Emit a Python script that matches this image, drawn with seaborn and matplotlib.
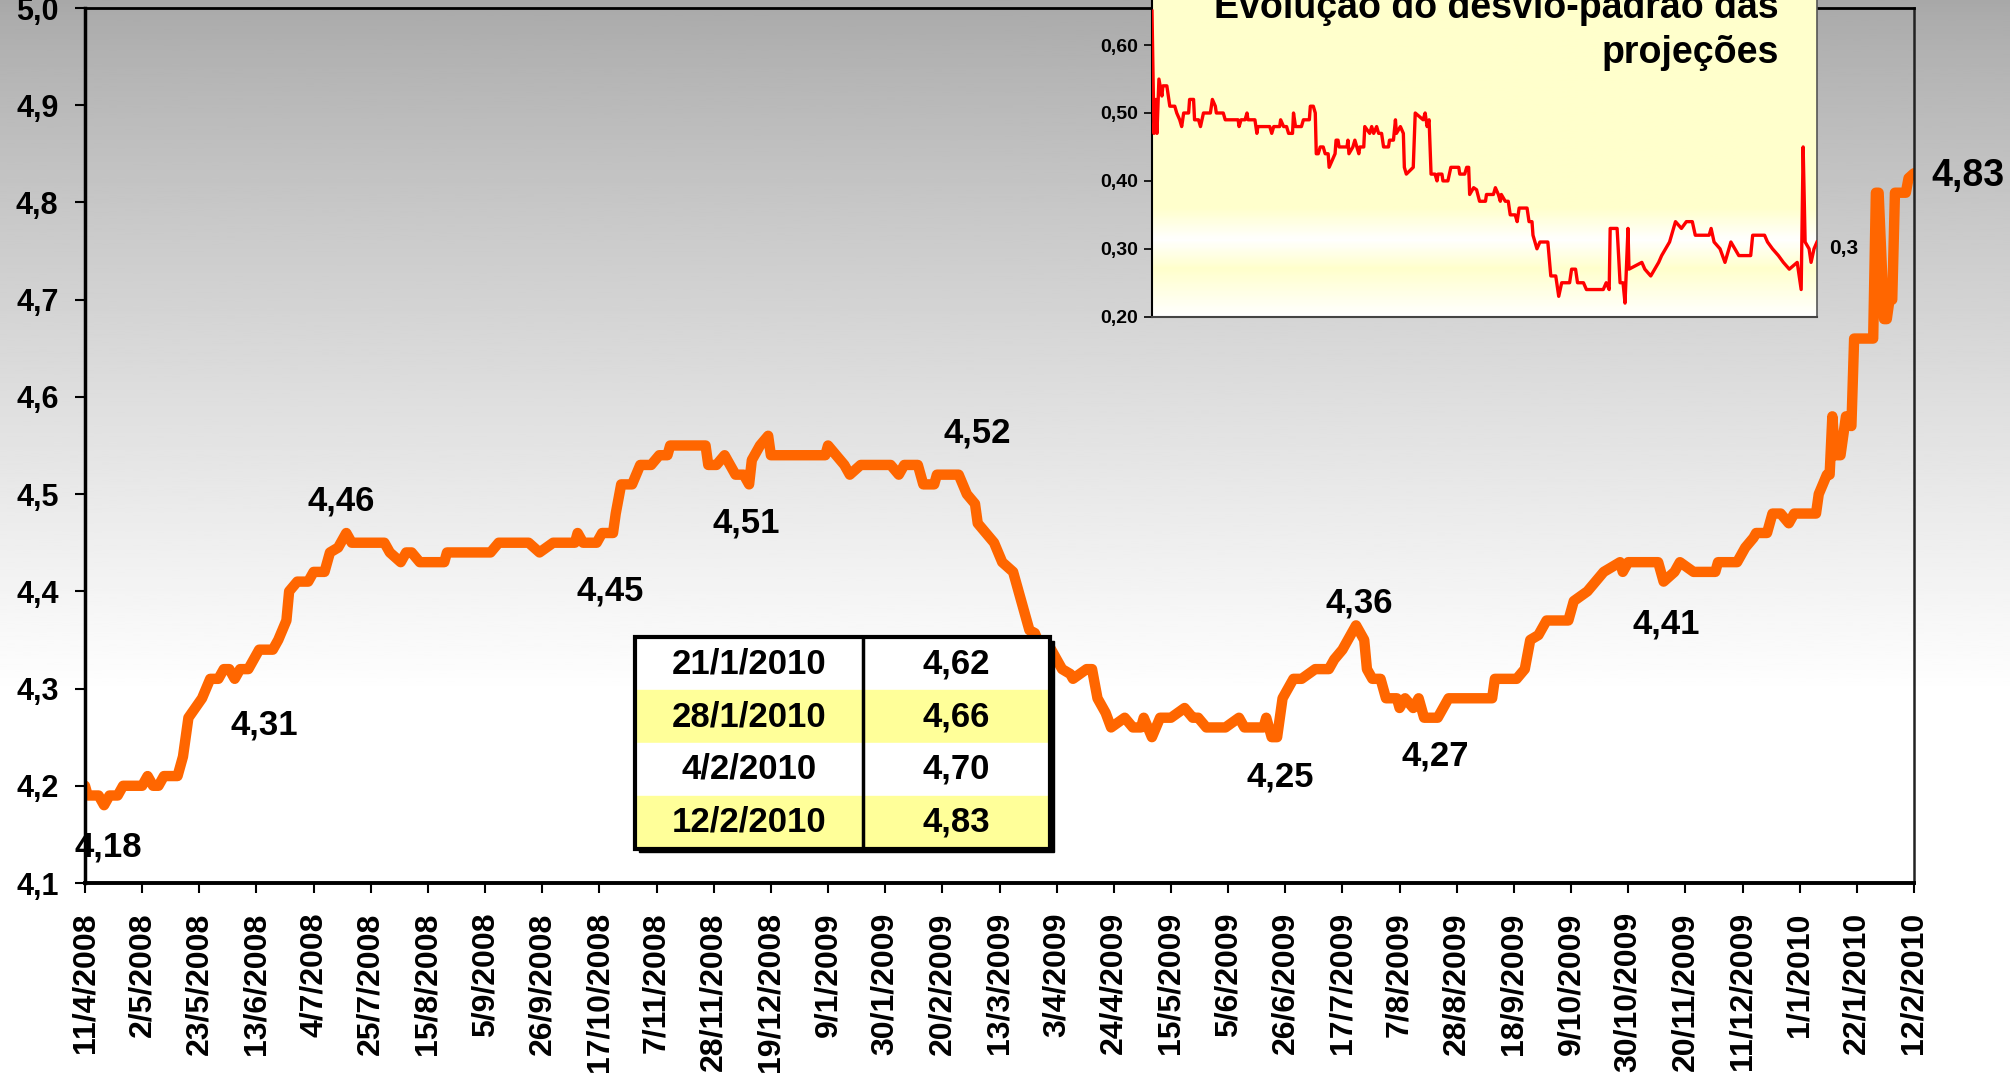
import numpy as np
import pandas as pd
import matplotlib
matplotlib.use('Agg')
import matplotlib.pyplot as plt
from matplotlib.colors import LinearSegmentedColormap
from matplotlib.patches import Rectangle
from matplotlib.ticker import FuncFormatter
import seaborn as sns

inicio = pd.Timestamp('2008-04-11')
fim = pd.Timestamp('2010-02-12')

# mediana das projecoes (dias desde 11/4/2008)
dias_mediana = [0, 1, 5, 7, 9, 12, 14, 21, 23, 25, 27, 29, 34, 36, 38, 43, 46, 49, 51, 53, 55, 57, 60, 62, 64,
                69, 71, 74, 75, 78, 82, 84, 88, 90, 93, 96, 98, 110, 112, 116, 118, 120, 123, 132, 133, 149, 152,
                163, 167, 172, 180, 181, 183, 188, 190, 194, 195, 197, 201, 204, 208, 211, 214, 215, 228, 229, 232,
                235, 239, 242, 244, 245, 248, 251, 252, 272, 273, 276, 279, 281, 285, 296, 299, 301, 306, 308, 312,
                313, 321, 324, 327, 328, 331, 334, 337, 341, 342, 344, 347, 349, 350, 354, 356, 359, 362, 363, 368,
                370, 372, 375, 377, 382, 385, 388, 389, 392, 395, 399, 404, 407, 409, 412, 419, 424, 426, 433, 434,
                436, 438, 440, 444, 447, 452, 457, 459, 462, 465, 467, 470, 471, 473, 476, 478, 482, 483, 485, 488,
                490, 492, 497, 501, 517, 518, 526, 529, 531, 534, 537, 545, 547, 552, 555, 558, 564, 565, 567, 578,
                580, 584, 586, 591, 599, 600, 607, 610, 613, 614, 618, 620, 623, 626, 628, 636, 637, 640, 641, 642,
                643, 645, 647, 649, 650, 657, 658, 659, 661, 662, 663, 664, 665, 668, 669, 670, 672]
valores_mediana = [4.20, 4.19, 4.19, 4.18, 4.19, 4.19, 4.20, 4.20, 4.21, 4.20, 4.20, 4.21, 4.21, 4.23, 4.27, 4.29,
                   4.31, 4.31, 4.32, 4.32, 4.31, 4.32, 4.32, 4.33, 4.34, 4.34, 4.35, 4.37, 4.40, 4.41, 4.41, 4.42,
                   4.42, 4.44, 4.445, 4.46, 4.45, 4.45, 4.44, 4.43, 4.44, 4.44, 4.43, 4.43, 4.44, 4.44, 4.45, 4.45,
                   4.44, 4.45, 4.45, 4.46, 4.45, 4.45, 4.46, 4.46, 4.48, 4.51, 4.51, 4.53, 4.53, 4.54, 4.54, 4.55,
                   4.55, 4.53, 4.53, 4.54, 4.52, 4.52, 4.51, 4.535, 4.55, 4.56, 4.54, 4.54, 4.55, 4.54, 4.53, 4.52,
                   4.53, 4.53, 4.52, 4.53, 4.53, 4.51, 4.51, 4.52, 4.52, 4.50, 4.49, 4.47, 4.46, 4.45, 4.43, 4.42,
                   4.41, 4.39, 4.36, 4.357, 4.35, 4.345, 4.335, 4.32, 4.315, 4.31, 4.32, 4.32, 4.29, 4.275, 4.26,
                   4.27, 4.26, 4.26, 4.27, 4.25, 4.27, 4.27, 4.28, 4.27, 4.27, 4.26, 4.26, 4.27, 4.26, 4.26, 4.27,
                   4.25, 4.25, 4.29, 4.31, 4.31, 4.32, 4.32, 4.33, 4.34, 4.355, 4.365, 4.35, 4.32, 4.31, 4.31, 4.29,
                   4.29, 4.28, 4.29, 4.28, 4.29, 4.27, 4.27, 4.29, 4.29, 4.31, 4.31, 4.32, 4.35, 4.355, 4.37, 4.37,
                   4.39, 4.40, 4.41, 4.42, 4.43, 4.42, 4.43, 4.43, 4.41, 4.42, 4.43, 4.42, 4.42, 4.43, 4.43, 4.445,
                   4.455, 4.46, 4.46, 4.48, 4.48, 4.47, 4.48, 4.48, 4.50, 4.52, 4.52, 4.58, 4.54, 4.54, 4.58, 4.57,
                   4.66, 4.66, 4.81, 4.81, 4.68, 4.68, 4.70, 4.70, 4.81, 4.81, 4.81, 4.825, 4.83]

# desvio-padrao das projecoes
dias_desvio = [0, 2, 4, 5, 7, 10, 11, 15, 18, 23, 25, 28, 30, 32, 37, 38, 42, 43, 47, 49, 52, 59, 61, 64, 65, 72, 74,
               87, 88, 90, 94, 96, 97, 104, 106, 107, 119, 121, 123, 129, 130, 133, 136, 138, 142, 143, 145, 151,
               153, 159, 160, 163, 165, 166, 168, 170, 173, 175, 178, 179, 182, 185, 186, 188, 189, 197, 198, 199,
               203, 205, 209, 210, 214, 215, 220, 222, 224, 227, 229, 232, 234, 239, 240, 244, 246, 247, 251, 254,
               255, 257, 264, 266, 274, 276, 278, 280, 282, 286, 288, 289, 293, 294, 299, 302, 310, 311, 316, 318,
               320, 321, 325, 328, 331, 337, 338, 345, 347, 350, 352, 353, 357, 360, 362, 367, 369, 371, 379, 381,
               384, 385, 389, 392, 400, 403, 408, 411, 414, 422, 424, 428, 430, 436, 439, 456, 459, 462, 463, 470,
               473, 476, 478, 481, 482, 495, 498, 504, 512, 515, 519, 523, 529, 535, 540, 546, 549, 563, 565, 568,
               574, 579, 585, 593, 599, 605, 607, 619, 622, 627, 633, 638, 644, 652, 656, 658, 660, 664, 666, 669,
               672]
valores_desvio = [0.65, 0.47, 0.52, 0.47, 0.55, 0.525, 0.54, 0.54, 0.51, 0.51, 0.50, 0.49, 0.48, 0.50, 0.50, 0.52,
                  0.52, 0.49, 0.49, 0.48, 0.50, 0.50, 0.52, 0.51, 0.50, 0.50, 0.49, 0.49, 0.48, 0.49, 0.49, 0.50,
                  0.49, 0.49, 0.47, 0.48, 0.48, 0.47, 0.48, 0.48, 0.49, 0.48, 0.48, 0.47, 0.47, 0.50, 0.48, 0.48,
                  0.49, 0.49, 0.51, 0.51, 0.50, 0.44, 0.44, 0.45, 0.45, 0.44, 0.44, 0.42, 0.43, 0.44, 0.46, 0.46,
                  0.45, 0.45, 0.46, 0.44, 0.45, 0.46, 0.44, 0.45, 0.45, 0.48, 0.47, 0.48, 0.47, 0.48, 0.47, 0.47,
                  0.45, 0.45, 0.46, 0.46, 0.49, 0.47, 0.48, 0.47, 0.42, 0.41, 0.42, 0.50, 0.49, 0.50, 0.48, 0.49,
                  0.41, 0.41, 0.40, 0.41, 0.41, 0.40, 0.40, 0.42, 0.42, 0.41, 0.41, 0.42, 0.42, 0.38, 0.39, 0.387,
                  0.37, 0.37, 0.38, 0.38, 0.39, 0.38, 0.37, 0.38, 0.37, 0.37, 0.35, 0.35, 0.34, 0.36, 0.36, 0.34,
                  0.34, 0.32, 0.30, 0.31, 0.31, 0.26, 0.26, 0.23, 0.25, 0.25, 0.27, 0.27, 0.25, 0.25, 0.24, 0.24,
                  0.25, 0.24, 0.33, 0.33, 0.25, 0.25, 0.22, 0.33, 0.27, 0.28, 0.27, 0.26, 0.28, 0.29, 0.30, 0.31,
                  0.34, 0.33, 0.34, 0.34, 0.32, 0.32, 0.33, 0.31, 0.30, 0.28, 0.31, 0.29, 0.29, 0.29, 0.32, 0.32,
                  0.31, 0.30, 0.29, 0.28, 0.27, 0.28, 0.24, 0.45, 0.31, 0.30, 0.28, 0.30, 0.31]

datas_tabela = ['21/1/2010', '28/1/2010', '4/2/2010', '12/2/2010']
valores_tabela = ['4,62', '4,66', '4,70', '4,83']

rotulos = ['4,18', '4,31', '4,46', '4,45', '4,51', '4,52', '4,25', '4,36', '4,27', '4,41', '4,83']
# posicao dos rotulos (dia, valor)
pos_rotulos = [(8.5, 4.137), (66, 4.263), (94, 4.493), (193, 4.400), (243, 4.470), (328, 4.563),
               (439, 4.209), (468, 4.388), (496, 4.231), (581, 4.366), (692, 4.827)]

titulo_inset = ['Evolução do desvio-padrão das', 'projeções']

plt.rcParams['font.family'] = ['Liberation Sans', 'DejaVu Sans']
plt.rcParams['font.weight'] = 'bold'

laranja = '#FF6600'

def virgula(v, pos):
    return ('%.1f' % v).replace('.', ',')

def virgula2(v, pos):
    return ('%.2f' % v).replace('.', ',')

def dia(d):
    return inicio + pd.Timedelta(days=d)

df = pd.DataFrame({'data': [dia(d) for d in dias_mediana], 'valor': valores_mediana})
df_dp = pd.DataFrame({'data': [dia(d) for d in dias_desvio], 'valor': valores_desvio})

fig = plt.figure(figsize=(20.1, 10.87), dpi=100)

# fundo degrade cinza -> branco
fundo = fig.add_axes([0, 0, 1, 1], zorder=-5)
t = np.clip(np.linspace(0.0, 1.0, 400) / 0.64, 0, 1)
grad = 0.66 + 0.34 * t ** 0.85
fundo.imshow(grad[:, None], cmap='gray', vmin=0, vmax=1, aspect='auto', extent=[0, 1, 0, 1], origin='upper')
fundo.set_axis_off()

ax = fig.add_axes([85 / 2010, 1 - 883 / 1087, 1829 / 2010, 875 / 1087])
ax.patch.set_alpha(0)
sns.lineplot(data=df, x='data', y='valor', ax=ax, color=laranja, linewidth=7.5, estimator=None,
             solid_joinstyle='round', solid_capstyle='round')
ax.set_xlim(inicio, fim)
ax.set_ylim(4.1, 5.0)
ax.set_yticks(np.arange(4.1, 5.01, 0.1))
ax.yaxis.set_major_formatter(FuncFormatter(virgula))
ticks = pd.date_range(inicio, fim, freq='21D')
ax.set_xticks(ticks)
ax.set_xticklabels(['%d/%d/%d' % (t.day, t.month, t.year) for t in ticks], rotation=90, fontsize=23,
                   fontweight='bold')
ax.tick_params(axis='y', labelsize=22, length=7, width=1.5, pad=12)
ax.tick_params(axis='x', length=7, width=1.5, pad=14)
ax.set_xlabel('')
ax.set_ylabel('')
ax.spines['left'].set_linewidth(2.5)
ax.spines['bottom'].set_linewidth(2.8)
ax.spines['top'].set_linewidth(2)
ax.spines['right'].set_linewidth(1.8)
ax.spines['right'].set_color('#222222')

for txt, (d, v) in zip(rotulos, pos_rotulos):
    fs = 27 if txt == '4,83' else 25
    ax.text(dia(d), v, txt, ha='center', va='center', fontsize=fs, fontweight='bold', clip_on=False, zorder=6)

# tabela
x0, x1, xm = 0.3007, 0.5276, 0.4254
y0, y1 = 0.0389, 0.2811
sombra = Rectangle((x0 + 0.002, y0 - 0.004), x1 - x0, y1 - y0, transform=ax.transAxes, color='black', zorder=7)
ax.add_patch(sombra)
h = (y1 - y0) / len(datas_tabela)
cores = ['white', '#FFFF99']
for i, (dt, vl) in enumerate(zip(datas_tabela, valores_tabela)):
    yt = y1 - (i + 1) * h
    ax.add_patch(Rectangle((x0, yt), x1 - x0, h, transform=ax.transAxes, color=cores[i % 2], zorder=8))
    ax.text((x0 + xm) / 2, yt + h / 2, dt, transform=ax.transAxes, ha='center', va='center', fontsize=25,
            fontweight='bold', zorder=9)
    ax.text((xm + x1) / 2, yt + h / 2, vl, transform=ax.transAxes, ha='center', va='center', fontsize=25,
            fontweight='bold', zorder=9)
ax.add_patch(Rectangle((x0, y0), x1 - x0, y1 - y0, transform=ax.transAxes, fill=False, edgecolor='black',
                       linewidth=3, zorder=10))
ax.plot([xm, xm], [y0, y1], transform=ax.transAxes, color='black', linewidth=2.5, zorder=10)

# grafico do desvio-padrao
top_in = 316.7 - 5 * 67.9
axi = fig.add_axes([1152 / 2010, 1 - 316.7 / 1087, 665 / 2010, (316.7 - top_in) / 1087], zorder=4)
cmap_in = LinearSegmentedColormap.from_list('amarelo', [(0, '#FFFFFF'), (0.14, '#FFFFCC'), (0.225, '#FFFFFF'),
                                                        (0.32, '#FFFFCC'), (1, '#FFFFCC')])
axi.imshow(np.linspace(0, 1, 300)[:, None], cmap=cmap_in, aspect='auto', extent=[0, 1, 0, 1], origin='lower',
           transform=axi.transAxes, zorder=0)
sns.lineplot(data=df_dp, x='data', y='valor', ax=axi, color='#FF0000', linewidth=2.4, estimator=None, zorder=3)
axi.set_xlim(inicio, fim)
axi.set_ylim(0.2, 0.7)
axi.set_yticks([0.2, 0.3, 0.4, 0.5, 0.6])
axi.yaxis.set_major_formatter(FuncFormatter(virgula2))
axi.set_xticks([])
axi.tick_params(axis='y', labelsize=14, length=6, width=1.2, pad=4)
axi.set_xlabel('')
axi.set_ylabel('')
axi.spines['top'].set_visible(False)
axi.spines['left'].set_linewidth(1.5)
axi.spines['bottom'].set_linewidth(1.5)
axi.spines['bottom'].set_color('#444444')
axi.spines['right'].set_linewidth(1.2)
axi.spines['right'].set_color('#555555')
axi.text(1.018, 0.30, '0,3', transform=axi.get_yaxis_transform(), fontsize=15, fontweight='bold',
         va='center', ha='left')

fig.text(1779 / 2010, 1 - 18 / 1087, titulo_inset[0], ha='right', va='baseline', fontsize=27,
         fontweight='bold', zorder=10)
fig.text(1779 / 2010, 1 - 63 / 1087, titulo_inset[1], ha='right', va='baseline', fontsize=27,
         fontweight='bold', zorder=10)

fig.savefig('out.png', dpi=100)
